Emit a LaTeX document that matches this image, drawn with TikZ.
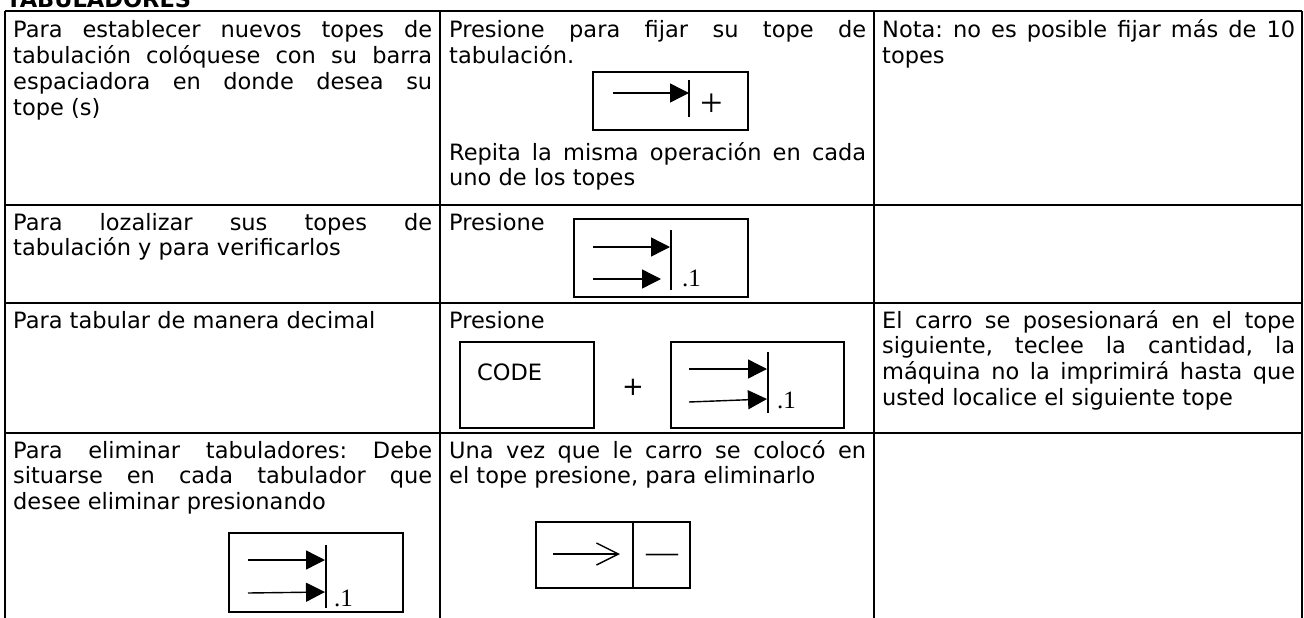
\documentclass[tikz,border=0pt]{standalone}
\usepackage{fontspec}
\setmainfont{DejaVu Sans}
\newfontfamily\keyfont{Liberation Serif}
\usepackage{tikz}
\usetikzlibrary{arrows.meta,positioning,calc}
\frenchspacing

\tikzset{
  grid line/.style={line width=2.2pt},
  keybox/.style={draw, line width=1.3pt},
  keyline/.style={line width=1.4pt},
  tabtip/.style={keyline, -{Triangle[length=19pt,width=19pt]}},
  opentip/.style={keyline, -{Straight Barb[length=22pt,width=22pt]}},
  textline/.style={anchor=base west, inner sep=0pt, font=\fontsize{22.5}{25.7}\selectfont},
  celltext/.style={textline, align=justify},
  keymark/.style={inner sep=0pt, font=\keyfont\fontsize{25}{25}\selectfont},
}

\begin{document}
\begin{tikzpicture}[x=1pt, y=-1pt]
            \useasboundingbox (0,0) rectangle (1304,618);
            \clip (0,0) rectangle (1304,618);

            \node[textline, font=\bfseries\fontsize{22.5}{25}\selectfont] (title) at (6,8) {TABULADORES};

            % table rules
            \draw[grid line] (5,11) -- (1302,11);
            \draw[grid line] (5,205) -- (1302,205);
            \draw[grid line] (5,303) -- (1302,303);
            \draw[grid line] (5,433) -- (1302,433);
            \foreach \x in {5,440,874,1302}
                \draw[grid line] (\x,11) -- (\x,618);

            % first row
            \node[celltext, text width=419pt] (setcol) at (13,38) {Para establecer nuevos topes de\linebreak tabulación colóquese con su barra\linebreak espaciadora en donde desea su\linebreak tope (s)};
            \node[celltext, text width=417pt] (setkey) at (449,38) {Presione para fijar su tope de\linebreak tabulación.};
            \node[celltext, text width=417pt] (setrep) at (449,160) {Repita la misma operación en cada\linebreak uno de los topes};
            \node[celltext, text width=413pt] (setnote) at (882,38) {Nota: no es posible fijar más de 10\linebreak topes};

            % key: tab set
            \draw[keybox] (593,72) rectangle (748,130);
            \draw[tabtip] (613,93) -- (689,93);
            \draw[keyline] (689,80) -- (689,117);
            \node[keymark, font=\keyfont\fontsize{40}{40}\selectfont] (setplus) at (712,105) {+};

            % second row
            \node[celltext, text width=419pt] (findcol) at (13,230) {Para lozalizar sus topes de\linebreak tabulación y para verificarlos};
            \node[textline] (findkey) at (449,230) {Presione};

            % key: tab
            \draw[keybox] (574,219) rectangle (748,297);
            \draw[tabtip] (593,247) -- (670,247);
            \draw[tabtip] (593,279) -- (661,279);
            \draw[keyline] (671,230) -- (671,290);
            \node[keymark, anchor=base west] (finddot) at (682,286) {.1};

            % third row
            \node[textline] (deccol) at (13,328) {Para tabular de manera decimal};
            \node[textline] (deckey) at (449,328) {Presione};
            \draw[keybox] (460,342) rectangle (594,428);
            \node[textline] (code) at (477,380) {CODE};
            \node[inner sep=0pt, font=\fontsize{26}{26}\selectfont] (decplus) at (633,387) {+};
            \draw[keybox] (671,342) rectangle (844,428);
            \draw[tabtip] (689,369) -- (767,369);
            \draw[tabtip] (689,402) -- (767,399);
            \draw[keyline] (768,352) -- (768,413);
            \node[keymark, anchor=base west] (decdot) at (777,408) {.1};
            \node[celltext, text width=413pt] (decnote) at (882,328) {El carro se posesionará en el tope\linebreak siguiente, teclee la cantidad, la\linebreak máquina no la imprimirá hasta que\linebreak usted localice el siguiente tope};

            % fourth row
            \node[celltext, text width=419pt] (delcol) at (13,458) {Para eliminar tabuladores: Debe\linebreak situarse en cada tabulador que\linebreak desee eliminar presionando};
            \draw[keybox] (229,533) rectangle (403,612);
            \draw[tabtip] (248,560) -- (325,560);
            \draw[tabtip] (248,593) -- (325,592);
            \draw[keyline] (326,545) -- (326,608);
            \node[keymark, anchor=base west] (deldot) at (334,606) {.1};

            \node[celltext, text width=417pt] (delkey) at (449,458) {Una vez que le carro se colocó en\linebreak el tope presione, para eliminarlo};
            \draw[keybox] (536,522) rectangle (690,588);
            \draw[opentip] (553,554) -- (620,554);
            \draw[keyline] (633,522) -- (633,588);
            \node[keymark, font=\keyfont\fontsize{32}{32}\selectfont] (delminus) at (662,558) {—};
        \end{tikzpicture}
\end{document}
